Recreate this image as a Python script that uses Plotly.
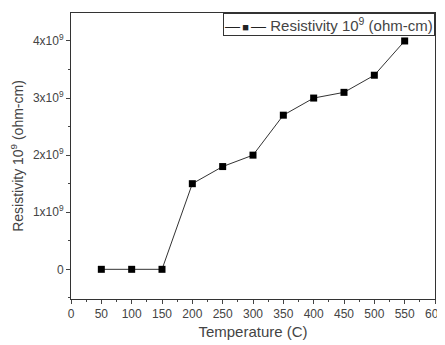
import plotly.graph_objects as go

temperature = [50, 100, 150, 200, 250, 300, 350, 400, 450, 500, 550]
resistivity = [0, 0, 0, 1.5e9, 1.8e9, 2.0e9, 2.7e9, 3.0e9, 3.1e9, 3.4e9, 4.0e9]
x_ticks = list(range(0, 601, 50))
y_tickvals = [0, 1e9, 2e9, 3e9, 4e9]
y_ticktext = ["0", "1x10<sup>9</sup>", "2x10<sup>9</sup>", "3x10<sup>9</sup>", "4x10<sup>9</sup>"]
series_name = "Resistivity 10<sup>9</sup> (ohm-cm)"

fig = go.Figure()
fig.add_trace(go.Scatter(
    x=temperature, y=resistivity, mode="lines+markers",
    name=series_name,
    line=dict(color="#333333", width=1),
    marker=dict(symbol="square", size=7, color="black"),
))

font_family = "Liberation Sans, Arial, sans-serif"
fig.update_layout(
    width=437, height=337,
    margin=dict(l=63, r=10, t=5, b=46),
    paper_bgcolor="white", plot_bgcolor="white",
    font=dict(family=font_family, color="#444444", size=12),
    showlegend=False,
)
# legend box drawn as a bordered text box (compact like the original)
fig.add_annotation(
    xref="paper", yref="paper", x=1, y=1, xanchor="right", yanchor="top",
    text=("<span style='color:#222'>\u2014<span style='font-size:11px'>\u2009■\u2009</span>\u2014</span> "
          + series_name),
    showarrow=False, font=dict(size=15, color="#444444"),
    bordercolor="#333333", borderwidth=1, borderpad=1, bgcolor="white",
    align="left",
)
fig.update_xaxes(
    range=[0, 600], tickvals=x_ticks, ticks="outside", ticklen=4,
    automargin=False, tickfont=dict(size=12), ticklabeloverflow="allow",
    showgrid=False, zeroline=False, showline=True, linecolor="#333333",
    linewidth=1, mirror=True,
    minor=dict(ticks="outside", ticklen=2, dtick=25, tick0=0, showgrid=False),
    title=dict(text="Temperature (C)", font=dict(size=15), standoff=6),
)
fig.update_yaxes(
    range=[-0.52e9, 4.49e9], tickvals=y_tickvals, ticktext=y_ticktext,
    ticks="outside", ticklen=4, automargin=False, tickfont=dict(size=12),
    showgrid=False, zeroline=False, showline=True, linecolor="#333333",
    linewidth=1, mirror=True,
    minor=dict(ticks="outside", ticklen=2, tickvals=[-0.5e9, 0.5e9, 1.5e9, 2.5e9, 3.5e9], showgrid=False),
    title=dict(text="Resistivity 10<sup>9</sup> (ohm-cm)", font=dict(size=14), standoff=6),
)
fig.write_html("out.html")
